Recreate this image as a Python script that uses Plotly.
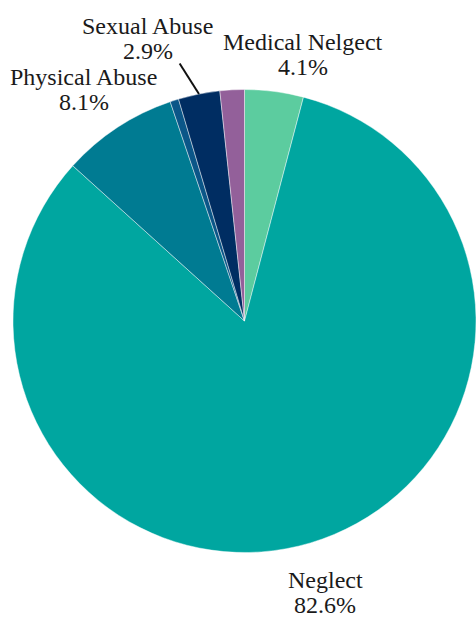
import math
import plotly.graph_objects as go

labels = ["Medical Nelgect", "Neglect", "Physical Abuse", "Other", "Sexual Abuse", "Psychological Abuse"]
values = [4.1, 82.6, 8.1, 0.6, 2.9, 1.7]
colors = ["#5ccc9f", "#00a6a0", "#007b92", "#0b5688", "#002d62", "#93609a"]
show_label = [True, True, True, False, True, False]

W, H = 476, 619
FONT = "Liberation Serif"
FSIZE = 24

# pie placement (pixels)
dom_x = (13, 476)
dom_y = (89, 553)
cx = (dom_x[0] + dom_x[1]) / 2
cy = (dom_y[0] + dom_y[1]) / 2
R = min(dom_x[1] - dom_x[0], dom_y[1] - dom_y[0]) / 2

# label placement style: (angle nudge in degrees, distance beyond the rim in px)
label_style = {
    "Medical Nelgect": (5.1, 41),
    "Neglect": (0.0, 52),
    "Physical Abuse": (-1.5, 50),
    "Sexual Abuse": (-7.6, 67),
}
leader_for = {"Sexual Abuse": (-2.8, 34)}  # (angle nudge, length beyond rim)
line_gap = 12.5

fig = go.Figure(go.Pie(
    labels=labels,
    values=values,
    sort=False,
    direction="clockwise",
    rotation=0,
    marker=dict(colors=colors, line=dict(color="rgba(255,255,255,0.55)", width=0.8)),
    textinfo="none",
    hoverinfo="label+value",
    showlegend=False,
    domain=dict(x=[dom_x[0] / W, dom_x[1] / W], y=[1 - dom_y[1] / H, 1 - dom_y[0] / H]),
))


def polar(angle_deg, dist):
    a = math.radians(angle_deg)
    return cx + dist * math.sin(a), cy - dist * math.cos(a)


total = sum(values)
cum = 0.0
annotations = []
shapes = []
for lab, val, show in zip(labels, values, show_label):
    mid = (cum + val / 2) / total * 360.0
    cum += val
    if not show:
        continue
    nudge, dist = label_style[lab]
    px, py = polar(mid + nudge, R + dist)
    for txt, dy in ((lab, -line_gap), (f"{val:.1f}%", line_gap)):
        annotations.append(dict(
            x=px / W, y=1 - (py + dy) / H, xref="paper", yref="paper",
            text=txt, showarrow=False, xanchor="center", yanchor="middle",
            font=dict(family=FONT, size=FSIZE, color="#1a1a1a"),
        ))
    if lab in leader_for:
        ln, ll = leader_for[lab]
        x0, y0 = polar(mid, R)
        x1, y1 = polar(mid + ln, R + ll)
        shapes.append(dict(
            type="line", xref="paper", yref="paper",
            x0=x0 / W, y0=1 - y0 / H, x1=x1 / W, y1=1 - y1 / H,
            line=dict(color="#111111", width=2),
        ))

fig.update_layout(
    width=W, height=H,
    margin=dict(l=0, r=0, t=0, b=0),
    paper_bgcolor="white",
    plot_bgcolor="white",
    font=dict(family=FONT, size=FSIZE, color="#1a1a1a"),
    annotations=annotations,
    shapes=shapes,
)

fig.write_html("out.html", config={"displayModeBar": False},
               post_script="document.body.style.margin='0px';")
